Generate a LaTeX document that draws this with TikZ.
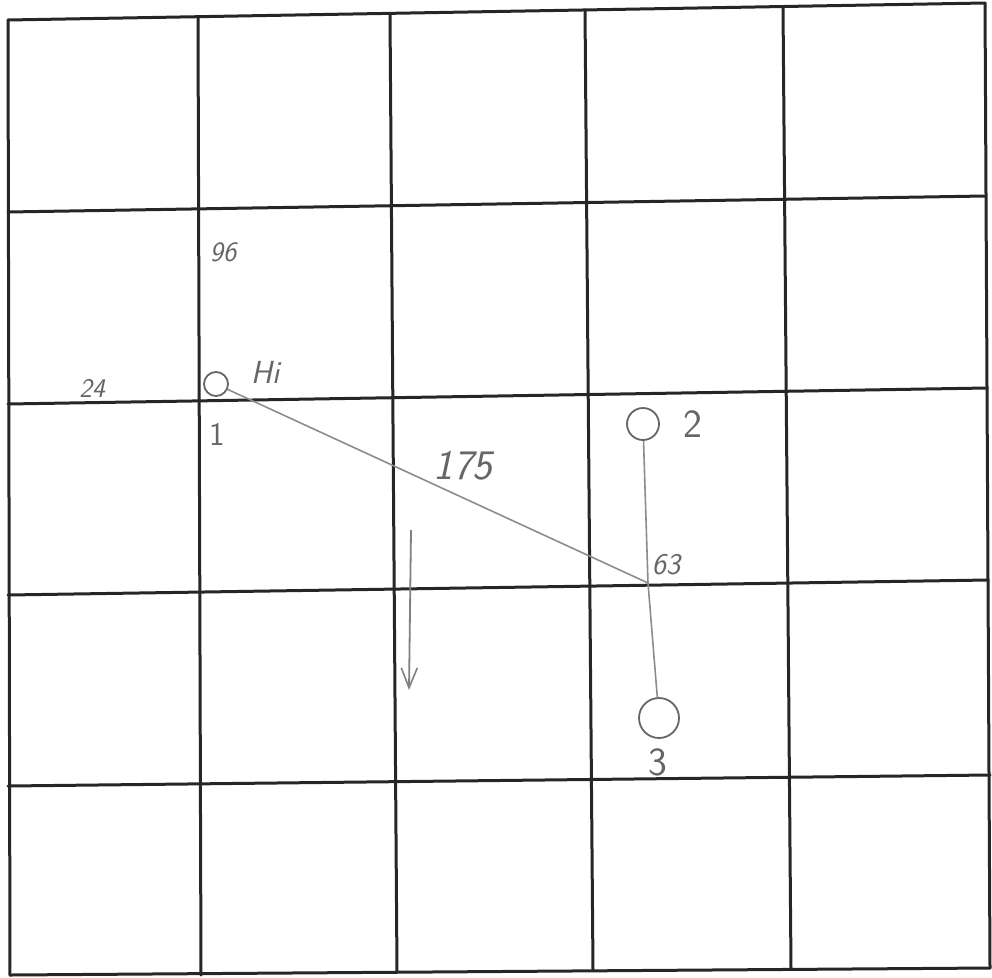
\documentclass[tikz,border=0pt]{standalone}
\usepackage{tikz}
\usetikzlibrary{arrows.meta,positioning,calc}

\begin{document}
\begin{tikzpicture}[
        x=1pt, y=-1pt,
        gridline/.style={line width=3pt, black!85, line cap=round},
        spot/.style={
            draw=black!60,
            circle,
            line width=1.8pt,
            inner sep=0pt
        },
        mark label/.style={text=black!60, font=\sffamily\itshape, inner sep=0pt},
        link/.style={line width=1.6pt, black!45},
        flow/.style={-{Straight Barb[length=20pt, width=16pt, line width=1.6pt]}, line width=1.8pt, black!50}
    ]
        \useasboundingbox (0,0) rectangle (992,977);

        % hand drawn 5x5 grid
        \foreach \xa/\ya/\xb/\yb in {8/20/10/975, 198/18/201/975, 390/14/397/972,
                585/10/593/970, 783/7/791/969, 985/3/990/968}
            \draw[gridline] (\xa,\ya) -- (\xb,\yb);
        \foreach \xa/\ya/\xb/\yb in {8/20/985/3, 8/212/985/196, 8/404/987/388,
                8/595/988/580, 8/786/990/775, 10/975/990/968}
            \draw[gridline] (\xa,\ya) -- (\xb,\yb);

        % stations
        \node[spot, minimum size=24pt] (one) at (216,384) {};
        \node[spot, minimum size=32pt] (two) at (643,424) {};
        \node[spot, minimum size=40pt] (three) at (659,718) {};
        \coordinate (meet) at (648,583);

        \node[mark label, font=\fontsize{32}{32}\sffamily\itshape] (hi) at (265,372) {Hi};
        \node[mark label, font=\fontsize{33}{33}\sffamily] (onelabel) at (217,434) {1};
        \node[mark label, font=\fontsize{40}{40}\sffamily] (twolabel) at (693,424) {2};
        \node[mark label, font=\fontsize{40}{40}\sffamily] (threelabel) at (658,762) {3};
        \node[mark label, font=\fontsize{28}{28}\sffamily\itshape] (north) at (223,252) {96};
        \node[mark label, font=\fontsize{27}{27}\sffamily\itshape] (west) at (92,388) {24};
        \node[mark label, font=\fontsize{42}{42}\sffamily\itshape] (dist) at (463,466) {175};
        \node[mark label, font=\fontsize{30}{30}\sffamily\itshape] (bear) at (666,565) {63};

        \draw[link] (one) -- (meet);
        \draw[link] (two) -- (meet) -- (three);

        % direction arrow
        \coordinate (arrowtop) at (411,530);
        \coordinate (arrowend) at (409,690);
        \draw[flow] (arrowtop) -- (arrowend);
    \end{tikzpicture}
\end{document}
